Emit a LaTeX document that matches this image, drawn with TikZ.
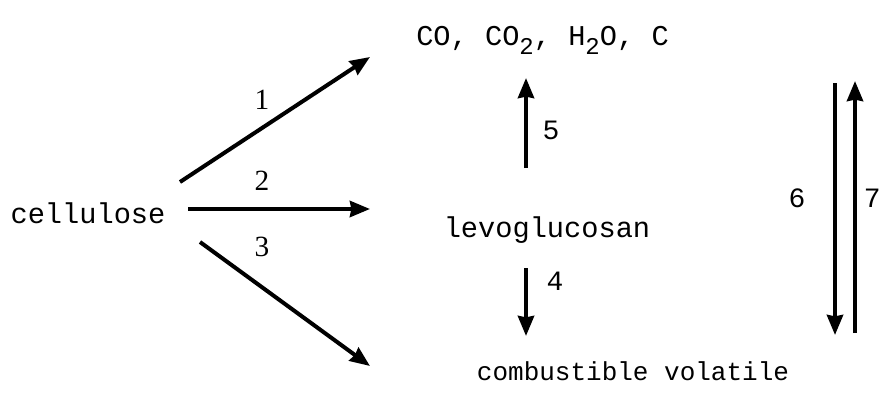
\documentclass[tikz,border=0pt]{standalone}
\usepackage{fontspec}
\setmainfont{Liberation Serif}
\setmonofont{Liberation Mono}
\usetikzlibrary{arrows.meta}
\tikzset{
  lbl/.style={font=\fontsize{21.5}{24}\selectfont\ttfamily, inner sep=0pt},
  num/.style={font=\fontsize{21}{24}\selectfont\ttfamily, inner sep=0pt},
  snum/.style={font=\fontsize{22}{24}\selectfont\rmfamily, inner sep=0pt},
  rx/.style={line width=3pt, -{Stealth[length=15pt,width=12pt,inset=1pt]}}
}
\newcommand{\sbs}[1]{\raisebox{-0.6ex}{\fontsize{18}{20}\selectfont #1}}
\begin{document}
\begin{tikzpicture}[x=0.75pt,y=-0.75pt]
\useasboundingbox (0,0) rectangle (882,393);
\fill[white] (0,0) rectangle (882,393);
\node[lbl] (cel) at (88,213) {cellulose};
\node[lbl, anchor=west] (gas) at (416,40) {CO, CO\sbs{2}, H\sbs{2}O, C};
\node[lbl] (lev) at (547,230) {levoglucosan};
\node[lbl, font=\fontsize{19.5}{24}\selectfont\ttfamily] (vol) at (633,371) {combustible volatile};
\coordinate (s1) at (180,182); \coordinate (e1) at (370,57);
\coordinate (s2) at (188,209); \coordinate (e2) at (370,209);
\coordinate (s3) at (200,242); \coordinate (e3) at (370,366);
\draw[rx] (s1) -- (e1);
\draw[rx] (s2) -- (e2);
\draw[rx] (s3) -- (e3);
\node[snum] (n1) at (262,100) {1};
\node[snum] (n2) at (262,181) {2};
\node[snum] (n3) at (262,247) {3};
\coordinate (s5) at (526,168); \coordinate (e5) at (526,78);
\coordinate (s4) at (526,268); \coordinate (e4) at (526,336);
\draw[rx] (s5) -- (e5);
\draw[rx] (s4) -- (e4);
\node[num] (n5) at (551,130) {5};
\node[num] (n4) at (555,281) {4};
\coordinate (s6) at (835,83); \coordinate (e6) at (835,335);
\coordinate (s7) at (855,333); \coordinate (e7) at (855,81);
\draw[rx] (s6) -- (e6);
\draw[rx] (s7) -- (e7);
\node[num] (n6) at (797,198) {6};
\node[num, anchor=east] (n7) at (881,198) {7};
\end{tikzpicture}
\end{document}
